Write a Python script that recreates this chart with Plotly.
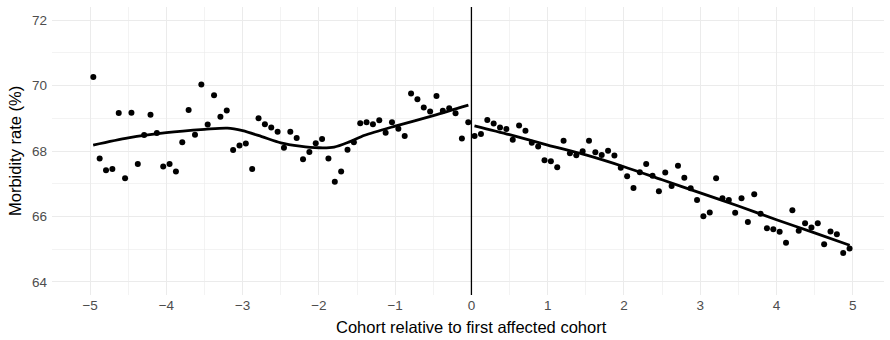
import plotly.graph_objects as go

# cohort month relative to first affected cohort (points plotted at month centres)
months_left = list(range(-60, 0))
months_right = list(range(0, 60))

rate_left = [70.26, 67.77, 67.41, 67.45, 69.16, 67.17, 69.17, 67.60, 68.49, 69.11,
             68.55, 67.53, 67.60, 67.37, 68.27, 69.25, 68.50, 70.03, 68.81, 69.70,
             69.05, 69.24, 68.03, 68.17, 68.23, 67.45, 69.00, 68.82, 68.72, 68.59,
             68.10, 68.59, 68.40, 67.75, 67.97, 68.24, 68.37, 67.77, 67.06, 67.37,
             68.04, 68.27, 68.85, 68.88, 68.82, 68.94, 68.56, 68.88, 68.68, 68.46,
             69.76, 69.58, 69.33, 69.21, 69.68, 69.23, 69.31, 69.15, 68.38, 68.88]

rate_right = [68.46, 68.52, 68.95, 68.84, 68.72, 68.67, 68.34, 68.78, 68.62, 68.25,
              68.14, 67.72, 67.69, 67.50, 68.31, 67.93, 67.87, 67.99, 68.31, 67.96,
              67.88, 68.01, 67.86, 67.49, 67.23, 66.87, 67.35, 67.60, 67.24, 66.77,
              67.34, 66.93, 67.55, 67.18, 66.86, 66.50, 66.01, 66.12, 67.17, 66.56,
              66.50, 66.11, 66.56, 65.83, 66.68, 66.08, 65.64, 65.61, 65.53, 65.20,
              66.19, 65.56, 65.79, 65.66, 65.79, 65.15, 65.54, 65.46, 64.88, 65.02]

# smoothed fit
smooth_left_x = [-4.96, -4.5, -4.0, -3.5, -3.2, -3.0, -2.75, -2.5, -2.25, -2.0,
                 -1.8, -1.6, -1.4, -1.0, -0.5, -0.04]
smooth_left_y = [68.18, 68.40, 68.56, 68.66, 68.70, 68.62, 68.44, 68.25, 68.15, 68.10,
                 68.12, 68.28, 68.48, 68.76, 69.08, 69.40]
smooth_right_x = [0.04, 0.5, 1.0, 1.5, 2.0, 2.5, 3.0, 3.5, 4.0, 4.5, 4.96]
smooth_right_y = [68.77, 68.50, 68.18, 67.88, 67.52, 67.12, 66.72, 66.32, 65.90, 65.50, 65.12]

x_ticks = [-5, -4, -3, -2, -1, 0, 1, 2, 3, 4, 5]
x_tick_text = ["\u22125", "\u22124", "\u22123", "\u22122", "\u22121", "0", "1", "2", "3", "4", "5"]
y_ticks = [64, 66, 68, 70, 72]

x_title = "Cohort relative to first affected cohort"
y_title = "Morbidity rate (%)"

x_left = [(m + 0.5) / 12 for m in months_left]
x_right = [(m + 0.5) / 12 for m in months_right]

FONT = "Liberation Sans, Arial, Helvetica, sans-serif"
GRID = "#EBEBEB"
ML, MR, MT, MB = 52, 6, 7, 45
W, H = 890, 340
PW, PH = W - ML - MR, H - MT - MB

fig = go.Figure()
for xs, ys in [(x_left, rate_left), (x_right, rate_right)]:
    fig.add_trace(go.Scatter(x=xs, y=ys, mode="markers",
                             marker=dict(color="black", size=6, line=dict(width=0)),
                             showlegend=False, hoverinfo="skip"))
for xs, ys in [(smooth_left_x, smooth_left_y), (smooth_right_x, smooth_right_y)]:
    fig.add_trace(go.Scatter(x=xs, y=ys, mode="lines",
                             line=dict(color="black", width=2.8, shape="spline", smoothing=0.8),
                             showlegend=False, hoverinfo="skip"))

fig.add_shape(type="line", xref="x", yref="paper", x0=0, x1=0, y0=0, y1=1,
              line=dict(color="black", width=1.3), layer="above")

fig.add_annotation(text=x_title, xref="paper", yref="paper",
                   x=(471 - ML) / PW, y=-(327 - (H - MB)) / PH,
                   xanchor="center", yanchor="middle", showarrow=False,
                   font=dict(size=16.5, color="black", family=FONT))
fig.add_annotation(text=y_title, xref="paper", yref="paper",
                   x=(15 - ML) / PW, y=0.5, textangle=-90,
                   xanchor="center", yanchor="middle", showarrow=False,
                   font=dict(size=16.5, color="black", family=FONT))

fig.update_layout(
    width=W, height=H,
    margin=dict(l=ML, r=MR, t=MT, b=MB, autoexpand=False),
    paper_bgcolor="white", plot_bgcolor="white",
    font=dict(family=FONT, color="black"),
    xaxis=dict(range=[-5.5, 5.41], tickvals=x_ticks, ticktext=x_tick_text,
               showgrid=True, gridcolor=GRID, gridwidth=1,
               minor=dict(dtick=0.5, tick0=-5.5, showgrid=True, gridcolor=GRID, gridwidth=0.6),
               zeroline=False, showline=False, ticks="", automargin=False,
               tickfont=dict(size=13.5, color="#4D4D4D")),
    yaxis=dict(range=[63.6, 72.4], tickvals=y_ticks,
               showgrid=True, gridcolor=GRID, gridwidth=1,
               minor=dict(dtick=1, tick0=63, showgrid=True, gridcolor=GRID, gridwidth=0.6),
               zeroline=False, showline=False, ticks="", automargin=False,
               ticklabelstandoff=4,
               tickfont=dict(size=13.5, color="#4D4D4D")),
)

fig.write_html("out.html",
               config={"displayModeBar": False, "staticPlot": True},
               post_script="document.body.style.margin='0px';document.body.style.padding='0px';"
                           "document.body.style.overflow='hidden';")
